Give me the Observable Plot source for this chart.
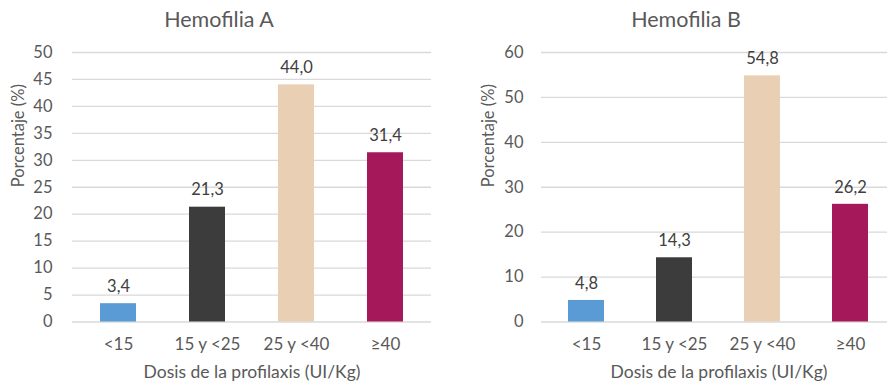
<!DOCTYPE html>
<html>
<head>
<meta charset="utf-8">
<script src="https://cdn.jsdelivr.net/npm/d3@7"></script>
<script src="https://cdn.jsdelivr.net/npm/@observablehq/plot@0.6"></script>
<style>
  html, body { margin: 0; padding: 0; background: #fff; overflow: hidden; width: 887px; height: 382px; }
  #wrap { position: relative; width: 887px; height: 382px; overflow: hidden; }
  .panel { position: absolute; top: 0; }
  .panel svg { max-width: none !important; }
</style>
</head>
<body>
<div id="wrap">
  <div id="a" class="panel" style="left:0px;width:440px"></div>
  <div id="b" class="panel" style="left:440px;width:460px"></div>
</div>
<script>
const categories = ["<15", "15 y <25", "25 y <40", "≥40"];
const valuesA = [3.4, 21.3, 44.0, 31.4];
const valuesB = [4.8, 14.3, 54.8, 26.2];
const colors = ["#5B9BD5", "#3C3C3C", "#E9CFB3", "#A5195B"];
const titles = ["Hemofilia A", "Hemofilia B"];
const yTicksA = [0, 5, 10, 15, 20, 25, 30, 35, 40, 45, 50];
const yTicksB = [0, 10, 20, 30, 40, 50, 60];
const xTitle = "Dosis de la profilaxis (UI/Kg)";
const yTitle = "Porcentaje (%)";

const fmt = v => d3.format(".1f")(v).replace(".", ",");
const textColor = "#595959";

function panel(values, yTicks, title, opts) {
  const data = categories.map((c, i) => ({cat: c, v: values[i], color: colors[i]}));
  return Plot.plot({
    width: opts.width,
    height: 382,
    marginTop: 52,
    marginBottom: 60.5,
    marginLeft: opts.marginLeft,
    marginRight: opts.marginRight,
    style: {fontFamily: "Lato, 'Open Sans', sans-serif", fontSize: "16px", color: textColor, background: "transparent", overflow: "visible"},
    x: {domain: categories, paddingInner: 0.59, paddingOuter: 0.295, label: null},
    y: {domain: [0, yTicks[yTicks.length - 1]], label: null},
    marks: [
      Plot.ruleY(yTicks, {stroke: "#D9D9D9", strokeWidth: 1.3}),
      Plot.barY(data, {x: "cat", y: "v", fill: "color"}),
      Plot.text(data, {x: "cat", y: "v", text: d => fmt(d.v), lineAnchor: "middle", dy: -17, fill: "#404040", fontSize: 16.5}),
      Plot.axisY({ticks: yTicks, tickSize: 0, tickPadding: opts.tickPad, fontSize: 16.5, fill: textColor, label: null}),
      Plot.axisX({tickSize: 0, tickPadding: 16, fontSize: 17, fill: textColor, label: null}),
      Plot.text([yTitle], {frameAnchor: "left", rotate: -90, dx: -opts.yLabelOff, fill: textColor, fontSize: 16.5}),
      Plot.text([xTitle], {frameAnchor: "bottom", lineAnchor: "middle", dy: 50.5, fill: textColor, fontSize: 17.5}),
      Plot.text([title], {frameAnchor: "top", lineAnchor: "middle", dy: -32, dx: -33, fill: textColor, fontSize: 21.5})
    ]
  });
}

document.getElementById("a").appendChild(panel(valuesA, yTicksA, titles[0], {width: 440, marginLeft: 72, marginRight: 9, tickPad: 20, yLabelOff: 54}));
document.getElementById("b").appendChild(panel(valuesB, yTicksB, titles[1], {width: 460, marginLeft: 101, marginRight: 4, tickPad: 18, yLabelOff: 53}));
</script>
</body>
</html>
